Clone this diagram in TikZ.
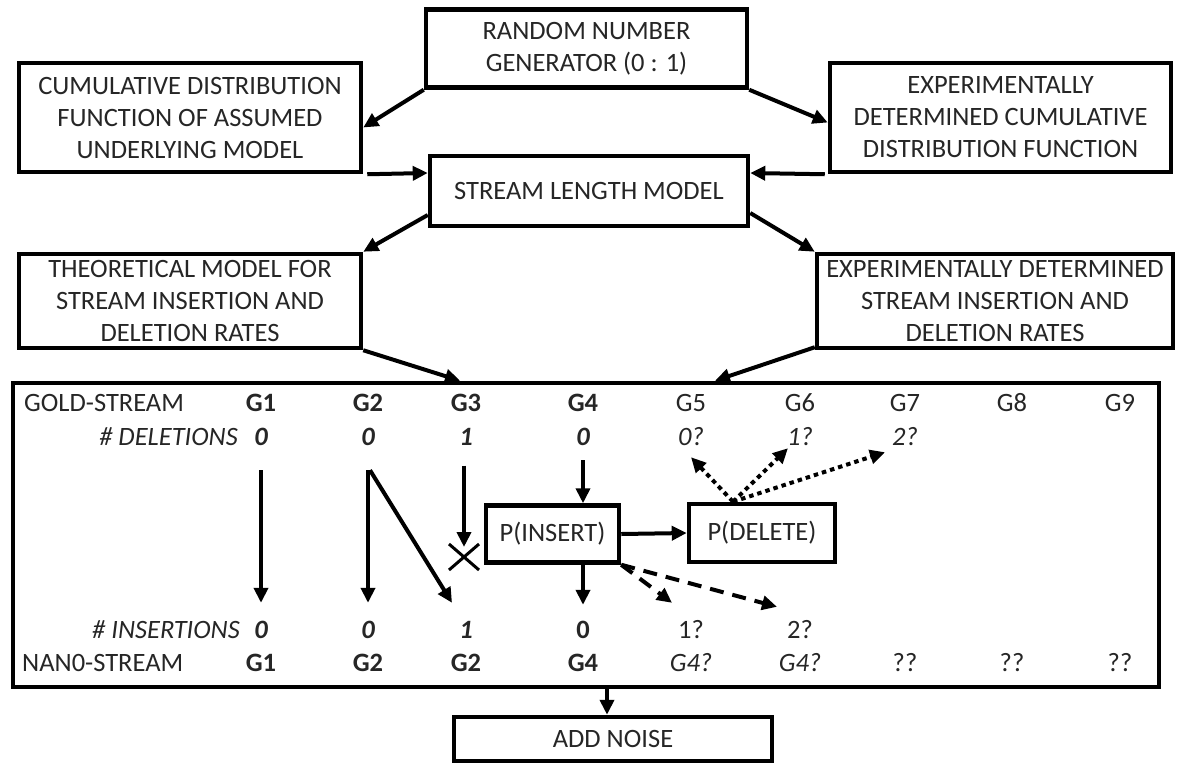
\documentclass[tikz,border=0pt]{standalone}
\usepackage{fontspec}
\setmainfont{Carlito}
\usetikzlibrary{arrows.meta,calc}
\definecolor{txt}{HTML}{262626}
\begin{document}
\begin{tikzpicture}[x=1pt,y=-1pt,
  box/.style={draw=black, line width=4.5pt, rectangle, inner sep=0pt, align=center,
    font=\fontsize{26.5}{32}\selectfont, text=txt},
  lbl/.style={inner sep=0pt, text height=17pt, text depth=0pt,
    font=\fontsize{26.5}{32}\selectfont, text=txt},
  arr/.style={line width=4pt, -{Triangle[length=15pt,width=14pt]}},
  dashedarr/.style={arr, dash pattern=on 14pt off 9pt},
  dottedarr/.style={arr, dash pattern=on 4.5pt off 4pt}]
\useasboundingbox (0,0) rectangle (1188,763);
\fill[white] (0,0) rectangle (1188,763);

% top boxes
\node[box, minimum width=321pt, minimum height=78pt] (rng) at (586.5,48.5) {RANDOM NUMBER\\GENERATOR (0 : 1)};
\node[box, minimum width=342pt, minimum height=109pt] (cdfl) at (190,117.5) {CUMULATIVE DISTRIBUTION\\FUNCTION OF ASSUMED\\UNDERLYING MODEL};
\node[box, minimum width=341pt, minimum height=109pt] (cdfr) at (1000.5,117.5) {EXPERIMENTALLY\\DETERMINED CUMULATIVE\\DISTRIBUTION FUNCTION};
\node[box, minimum width=318pt, minimum height=70pt] (slm) at (589,191) {STREAM LENGTH MODEL};
\node[box, minimum width=342pt, minimum height=94pt] (theo) at (190,301) {THEORETICAL MODEL FOR\\STREAM INSERTION AND\\DELETION RATES};
\node[box, minimum width=356pt, minimum height=94pt] (expr) at (995,301) {EXPERIMENTALLY DETERMINED\\STREAM INSERTION AND\\DELETION RATES};
\node[box, minimum width=1146pt, minimum height=304pt] (big) at (586,535) {};
\node[box, minimum width=318pt, minimum height=44pt] (noise) at (613,739) {ADD NOISE};

% top connectors
\draw[arr] (rng.south west) -- ([yshift=-10pt]cdfl.east);
\draw[arr] (rng.south east) -- ([yshift=-5pt]cdfr.west);
\draw[arr] ([xshift=4pt]cdfl.south east) -- ([yshift=18pt]slm.west);
\draw[arr] ([xshift=-3pt]cdfr.south west) -- ([yshift=18pt]slm.east);
\draw[arr] ([yshift=-24pt]slm.west) -- (theo.north east);
\draw[arr] ([yshift=-22pt]slm.east) -- (expr.north west);
\draw[arr] (theo.south east) -- ([xshift=-126pt]big.north);
\draw[arr] ([yshift=3pt]expr.south west) -- ([xshift=129pt]big.north);
\draw[arr] ([xshift=21pt]big.south) -- ([xshift=-6pt]noise.north);

% row labels
\node[lbl, anchor=west] (goldlbl) at (24,403) {GOLD-STREAM};
\node[lbl, anchor=east] (dellbl) at (238,437) {\itshape \# DELETIONS};
\node[lbl, anchor=east] (inslbl) at (240,630) {\itshape \# INSERTIONS};
\node[lbl, anchor=west] (nanolbl) at (22,663) {NAN0-STREAM};

% gold-stream row
\node[lbl] (g1) at (261,403) {\bfseries G1};
\node[lbl] (g2) at (368,403) {\bfseries G2};
\node[lbl] (g3) at (466,403) {\bfseries G3};
\node[lbl] (g4) at (583,403) {\bfseries G4};
\node[lbl] (g5) at (691,403) {G5};
\node[lbl] (g6) at (800,403) {G6};
\node[lbl] (g7) at (905,403) {G7};
\node[lbl] (g8) at (1012,403) {G8};
\node[lbl] (g9) at (1120,403) {G9};

% deletions row
\node[lbl] (d1) at (261,437) {\bfseries\itshape 0};
\node[lbl] (d2) at (368,437) {\bfseries\itshape 0};
\node[lbl] (d3) at (466,437) {\bfseries\itshape 1};
\node[lbl] (d4) at (583,437) {\bfseries\itshape 0};
\node[lbl] (d5) at (691,437) {\itshape 0?};
\node[lbl] (d6) at (800,437) {\itshape 1?};
\node[lbl] (d7) at (905,437) {\itshape 2?};

% insertions row
\node[lbl] (i1) at (261,630) {\bfseries\itshape 0};
\node[lbl] (i2) at (368,630) {\bfseries\itshape 0};
\node[lbl] (i3) at (466,630) {\bfseries\itshape 1};
\node[lbl] (i4) at (583,630) {\bfseries 0};
\node[lbl] (i5) at (691,630) {1?};
\node[lbl] (i6) at (800,630) {2?};

% nano-stream row
\node[lbl] (n1) at (261,663) {\bfseries G1};
\node[lbl] (n2) at (368,663) {\bfseries G2};
\node[lbl] (n3) at (466,663) {\bfseries G2};
\node[lbl] (n4) at (583,663) {\bfseries G4};
\node[lbl] (n5) at (691,663) {\itshape G4?};
\node[lbl] (n6) at (800,663) {\itshape G4?};
\node[lbl] (n7) at (905,663) {??};
\node[lbl] (n8) at (1012,663) {??};
\node[lbl] (n9) at (1120,663) {??};

% probability boxes
\node[box, minimum width=133pt, minimum height=57pt] (pins) at (552.5,534) {P(INSERT)};
\node[box, minimum width=146pt, minimum height=58pt] (pdel) at (762,533) {P(DELETE)};

% inner connectors
\draw[arr, shorten <=24.5pt, shorten >=18.5pt] (d1.south) -- (i1.north);
\draw[arr, shorten <=24.5pt, shorten >=18.5pt] (d2.south) -- (i2.north);
\draw[arr] ([xshift=2pt,yshift=-24.5pt]d2.south) -- ([xshift=-14pt,yshift=18.5pt]i3.north);
\coordinate (xmark) at (464,557);
\draw[arr, shorten >=10pt] ([xshift=-2pt,yshift=-20pt]d3.south) -- (xmark);
\draw[line width=3pt] ($(xmark)+(-15,-13)$) -- ($(xmark)+(15,13)$);
\draw[line width=3pt] ($(xmark)+(-15,13)$) -- ($(xmark)+(15,-13)$);
\draw[arr, shorten <=14.5pt] (d4.south) -- (d4.south |- pins.north);
\draw[arr, shorten >=16.5pt] (pins.south -| i4.north) -- (i4.north);
\draw[arr] (pins.east) -- (pdel.west);
\draw[dashedarr] (pins.south east) -- ([xshift=-19pt,yshift=18.5pt]i5.north);
\draw[dashedarr] (pins.south east) -- ([xshift=-23pt,yshift=14.5pt]i6.north);
\draw[dottedarr] ([xshift=-29pt]pdel.north) -- ([yshift=-11.5pt]d5.south);
\draw[dottedarr] ([xshift=-29pt]pdel.north) -- ([xshift=-12pt,yshift=-2.5pt]d6.south);
\draw[dottedarr] ([xshift=-29pt]pdel.north) -- ([xshift=-20pt,yshift=-6.5pt]d7.south);
\end{tikzpicture}
\end{document}
